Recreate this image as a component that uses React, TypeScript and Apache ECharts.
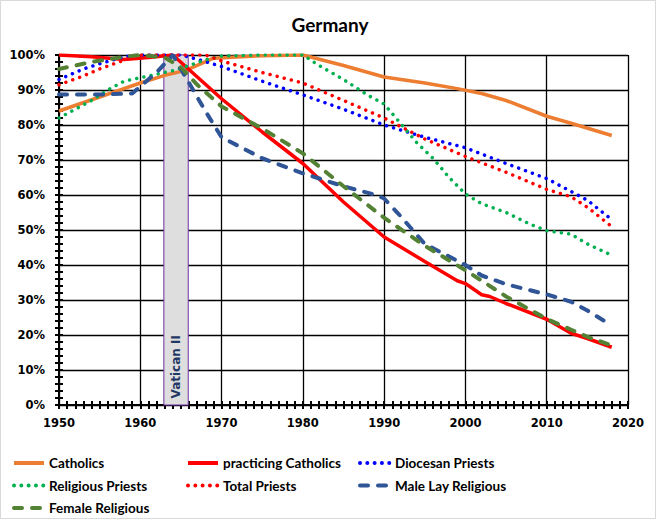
import React, { useEffect, useRef } from "react";
import * as echarts from "echarts";

const title = "Germany";
const yearTicks = [1950, 1960, 1970, 1980, 1990, 2000, 2010, 2020];
const vaticanII = [1962.9, 1965.9];

const catholics = [
  [1950, 84], [1955, 88], [1957, 89.6], [1960, 92], [1963, 94.2], [1965.6, 95.6], [1969, 99.1],
  [1975, 99.8], [1980, 100], [1985, 97], [1990, 93.7], [1995, 92], [1999, 90.4], [2002, 89],
  [2005, 87], [2010, 82.5], [2013, 80.5], [2018, 77],
];
const practicing = [
  [1950, 100], [1954, 99.5], [1958, 98.7], [1961, 99.3], [1964, 100], [1970, 87.5], [1975, 78],
  [1980, 69], [1985, 58], [1990, 48], [1995, 41], [1999, 35.5], [2000, 34.7], [2002, 31.5],
  [2003, 31], [2005, 29], [2010, 24.5], [2013, 20.5], [2015, 19], [2018, 16.5],
];
const diocesan = [
  [1950, 93], [1953, 96], [1955, 97.5], [1958, 99.5], [1960, 100], [1965, 100], [1967, 98.8],
  [1970, 96.7], [1975, 92.5], [1980, 88.6], [1985, 84.5], [1990, 80], [1995, 76.5], [2000, 73.5],
  [2005, 69], [2010, 64.7], [2013, 61], [2015, 58.5], [2018, 53],
];
const religiousPriests = [
  [1950, 82], [1952, 84.5], [1954, 87], [1956, 90], [1958, 92.5], [1960, 93.5], [1962, 94.5],
  [1964, 95.5], [1966, 97], [1968, 98.6], [1970, 99.7], [1975, 100], [1980, 100], [1982, 97],
  [1985, 93], [1988, 88.5], [1990, 86], [1992, 80.5], [1994, 75], [1996, 70.5], [1998, 65],
  [2000, 60.3], [2002, 57.5], [2005, 55], [2008, 51.6], [2010, 49.8], [2013, 48.8], [2015, 46],
  [2018, 42.8],
];
const totalPriests = [
  [1950, 91.5], [1953, 94], [1955, 96], [1958, 98.5], [1960, 100], [1968, 100], [1970, 98.3],
  [1975, 95], [1980, 92], [1985, 87], [1990, 82], [1995, 76], [2000, 71], [2005, 66.5],
  [2010, 61.6], [2013, 59.5], [2015, 56.5], [2018, 51],
];
const maleLay = [
  [1950, 88.7], [1955, 88.7], [1959, 89], [1962, 95], [1964, 100], [1966, 92], [1968, 84],
  [1970, 76.5], [1975, 70.5], [1980, 66.2], [1985, 62.5], [1989, 60], [1990, 59], [1992, 54],
  [1995, 46], [2000, 40], [2002, 37], [2005, 34.5], [2010, 31.6], [2013, 29.5], [2015, 27],
  [2018, 22.7],
];
const femaleReligious = [
  [1950, 96], [1954, 98], [1958, 99.5], [1960, 100], [1963, 99.3], [1965, 96.5], [1967, 91.5],
  [1970, 85.3], [1975, 79], [1980, 71.9], [1985, 62.5], [1990, 53.5], [1995, 45.5], [2000, 38.5],
  [2002, 35.5], [2005, 31], [2010, 24.6], [2013, 21.5], [2015, 19.5], [2018, 17],
];

const legendCol1 = ["Catholics", "Religious Priests", "Female Religious"];
const legendCol2 = ["practicing Catholics", "Total Priests"];
const legendCol3 = ["Diocesan Priests", "Male Lay Religious"];

const LEG_FONT = "Lato";
const AX_FONT = "DejaVu Sans";

function lineSeries(name: string, data: number[][], color: string, kind: "solid" | "dot" | "dash") {
  const lineStyle: any = { color, width: kind === "dash" ? 4 : 3.5 };
  if (kind === "dot") {
    lineStyle.type = [0.01, 7.3];
    lineStyle.cap = "round";
  } else if (kind === "dash") {
    lineStyle.type = [8, 10];
    lineStyle.cap = "round";
  } else {
    lineStyle.type = "solid";
  }
  return {
    name,
    type: "line",
    data,
    showSymbol: false,
    symbol: "none",
    itemStyle: { color },
    lineStyle,
    z: 3,
  };
}

export default function App() {
  const ref = useRef<HTMLDivElement>(null);
  useEffect(() => {
    document.body.style.margin = "0";
    const chart = echarts.init(ref.current!, null, { renderer: "svg" });
    const legendBase = {
      orient: "vertical",
      top: 456,
      padding: 0,
      height: 64,
      itemWidth: 30,
      itemHeight: 14,
      itemGap: 8.5,
      itemStyle: { opacity: 0 },
      lineStyle: { width: 4 },
      textStyle: { fontFamily: LEG_FONT, fontWeight: "bold", fontSize: 13.5, color: "#000" },
      selectedMode: false,
    };
    const series: any[] = [
      lineSeries("Catholics", catholics, "#ED7D31", "solid"),
      lineSeries("practicing Catholics", practicing, "#FF0000", "solid"),
      lineSeries("Diocesan Priests", diocesan, "#0000FF", "dot"),
      lineSeries("Religious Priests", religiousPriests, "#00B050", "dot"),
      lineSeries("Total Priests", totalPriests, "#FF0000", "dot"),
      lineSeries("Male Lay Religious", maleLay, "#2F5597", "dash"),
      lineSeries("Female Religious", femaleReligious, "#548235", "dash"),
      {
        name: "band",
        type: "line",
        data: [],
        z: 2,
        markArea: {
          silent: true,
          itemStyle: { color: "#DEDEDE", borderColor: "#7030A0", borderWidth: 1 },
          label: {
            show: true,
            position: "insideBottom",
            rotate: 90,
            align: "left",
            verticalAlign: "middle",
            distance: 7,
            color: "#1F3864",
            fontFamily: AX_FONT,
            fontWeight: "bold",
            fontSize: 12,
          },
          data: [[{ name: "Vatican II", xAxis: vaticanII[0], yAxis: 0 }, { xAxis: vaticanII[1], yAxis: 100 }]],
        },
      },
    ];
    const xBase = {
      type: "value",
      min: yearTicks[0],
      max: yearTicks[yearTicks.length - 1],
      interval: 10,
    };
    const yBase = { type: "value", min: 0, max: 100, interval: 10 };
    chart.setOption({
      animation: false,
      backgroundColor: "#fff",
      title: {
        text: title,
        left: "center",
        top: 10,
        textStyle: { fontFamily: LEG_FONT, fontWeight: "bold", fontSize: 19, color: "#000" },
      },
      grid: { left: 59, right: 32, top: 55, bottom: 115, containLabel: false },
      xAxis: [
        {
          ...xBase,
          axisLine: { show: true, lineStyle: { color: "#000", width: 2 } },
          axisTick: { show: true, length: 4, lineStyle: { color: "#000", width: 2 } },
          minorTick: { show: true, splitNumber: 10, length: 4, lineStyle: { color: "#000", width: 2 } },
          splitLine: { show: true, lineStyle: { color: "#000", width: 1.3 } },
          axisLabel: {
            margin: 12,
            color: "#000",
            fontFamily: AX_FONT,
            fontWeight: "bold",
            fontSize: 11.5,
            formatter: (v: number) => String(v),
          },
        },
        {
          ...xBase,
          position: "bottom",
          axisLine: { show: false },
          axisTick: { show: true, inside: true, length: 4, lineStyle: { color: "#000", width: 2 } },
          minorTick: { show: true, splitNumber: 10, length: 4, lineStyle: { color: "#000", width: 2 } },
          splitLine: { show: false },
          axisLabel: { show: false },
        },
      ],
      yAxis: [
        {
          ...yBase,
          axisLine: { show: true, lineStyle: { color: "#000", width: 2 } },
          axisTick: { show: true, length: 4, lineStyle: { color: "#000", width: 2 } },
          minorTick: { show: true, splitNumber: 5, length: 4, lineStyle: { color: "#000", width: 2 } },
          splitLine: { show: true, lineStyle: { color: "#000", width: 1.3 } },
          axisLabel: {
            margin: 14,
            color: "#000",
            fontFamily: AX_FONT,
            fontWeight: "bold",
            fontSize: 11.5,
            formatter: (v: number) => `${v}%`,
          },
        },
        {
          ...yBase,
          position: "left",
          axisLine: { show: false },
          axisTick: { show: true, inside: true, length: 4, lineStyle: { color: "#000", width: 2 } },
          minorTick: { show: true, splitNumber: 5, length: 4, lineStyle: { color: "#000", width: 2 } },
          splitLine: { show: false },
          axisLabel: { show: false },
        },
      ],
      legend: [
        { ...legendBase, left: 12, data: legendCol1 },
        { ...legendBase, left: 186, data: legendCol2 },
        { ...legendBase, left: 358, data: legendCol3 },
      ],
      graphic: [
        {
          type: "rect",
          shape: { x: 0.5, y: 0.5, width: 655, height: 518 },
          style: { fill: "none", stroke: "#D9D9D9", lineWidth: 1 },
          silent: true,
        },
      ],
      series,
    });
    return () => chart.dispose();
  }, []);
  return <div ref={ref} style={{ width: 660, height: 520 }} />;
}
